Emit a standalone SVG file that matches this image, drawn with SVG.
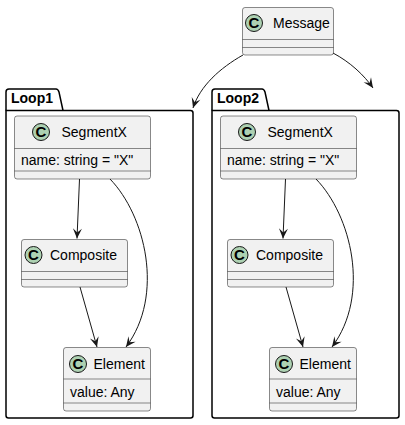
<svg xmlns="http://www.w3.org/2000/svg" width="405" height="425" viewBox="0 0 405 425">
<defs>
<style>
.box{fill:#F1F1F1;stroke:#181818;stroke-width:0.5}
.sep{stroke:#181818;stroke-width:0.5}
.pkg{fill:none;stroke:#000;stroke-width:1.5}
.ic{fill:#ADD1B2;stroke:#181818;stroke-width:1}
.icl{font-family:"Liberation Sans",Arial,sans-serif;font-size:15px;font-weight:bold;fill:#000}
.t{font-family:"Liberation Sans",Arial,sans-serif;font-size:14px;fill:#000}
.pt{font-family:"Liberation Sans",Arial,sans-serif;font-size:14px;font-weight:bold;fill:#000}
.ln{fill:none;stroke:#181818;stroke-width:1}
</style>
<marker id="ah" viewBox="-11 -5 12 10" refX="0" refY="0" markerWidth="12" markerHeight="10" markerUnits="userSpaceOnUse" orient="auto">
<path d="M0,0 L-10,-4.5 L-6,0 L-10,4.5 Z" fill="#181818"/>
</marker>
</defs>
<rect width="405" height="425" fill="#FFFFFF"/>

<g id="Loop1">
<path class="pkg" d="M6,110.5 L6,92 Q6,89 9,89 L56,89 Q58,89 59,92 L63,110.5"/>
<path class="pkg" d="M6,110.5 L190.5,110.5 Q193,110.5 193,113 L193,415.5 Q193,418 190.5,418 L8.5,418 Q6,418 6,415.5 Z"/>
<text class="pt" x="11" y="103">Loop1</text>
</g>
<g id="Loop2">
<path class="pkg" d="M212,110.5 L212,92 Q212,89 215,89 L262,89 Q264,89 265,92 L269,110.5"/>
<path class="pkg" d="M212,110.5 L396.5,110.5 Q399,110.5 399,113 L399,415.5 Q399,418 396.5,418 L214.5,418 Q212,418 212,415.5 Z"/>
<text class="pt" x="217" y="103">Loop2</text>
</g>

<g id="Message">
<rect class="box" x="242.5" y="7.5" width="91" height="47.5" rx="2.5"/>
<line class="sep" x1="242.5" y1="39.5" x2="333.5" y2="39.5"/>
<line class="sep" x1="242.5" y1="47.5" x2="333.5" y2="47.5"/>
<circle class="ic" cx="254" cy="23" r="8.5"/>
<text class="icl" x="254" y="28.3" text-anchor="middle">C</text>
<text class="t" x="273" y="28">Message</text>
</g>

<g id="Loop1.SegmentX">
<rect class="box" x="14.5" y="116" width="136" height="63" rx="2.5"/>
<line class="sep" x1="14.5" y1="148.5" x2="150.5" y2="148.5"/>
<line class="sep" x1="14.5" y1="171" x2="150.5" y2="171"/>
<circle class="ic" cx="41" cy="132" r="8.5"/>
<text class="icl" x="41" y="137.3" text-anchor="middle">C</text>
<text class="t" x="61.5" y="137">SegmentX</text>
<text class="t" x="21" y="165">name: string = "X"</text>
</g>
<g id="Loop1.Composite">
<rect class="box" x="21.5" y="239.5" width="106" height="47.5" rx="2.5"/>
<line class="sep" x1="21.5" y1="271.5" x2="127.5" y2="271.5"/>
<line class="sep" x1="21.5" y1="279.5" x2="127.5" y2="279.5"/>
<circle class="ic" cx="33.5" cy="255" r="8.5"/>
<text class="icl" x="33.5" y="260.3" text-anchor="middle">C</text>
<text class="t" x="50" y="260">Composite</text>
</g>
<g id="Loop1.Element">
<rect class="box" x="63.5" y="347.5" width="87" height="63.5" rx="2.5"/>
<line class="sep" x1="63.5" y1="379" x2="150.5" y2="379"/>
<line class="sep" x1="63.5" y1="403" x2="150.5" y2="403"/>
<circle class="ic" cx="78" cy="364" r="8.5"/>
<text class="icl" x="78" y="369.3" text-anchor="middle">C</text>
<text class="t" x="93.5" y="368.5">Element</text>
<text class="t" x="70" y="397">value: Any</text>
</g>

<g id="Loop2.SegmentX">
<rect class="box" x="220.5" y="116" width="136" height="63" rx="2.5"/>
<line class="sep" x1="220.5" y1="148.5" x2="356.5" y2="148.5"/>
<line class="sep" x1="220.5" y1="171" x2="356.5" y2="171"/>
<circle class="ic" cx="247" cy="132" r="8.5"/>
<text class="icl" x="247" y="137.3" text-anchor="middle">C</text>
<text class="t" x="267.5" y="137">SegmentX</text>
<text class="t" x="227" y="165">name: string = "X"</text>
</g>
<g id="Loop2.Composite">
<rect class="box" x="227.5" y="239.5" width="106" height="47.5" rx="2.5"/>
<line class="sep" x1="227.5" y1="271.5" x2="333.5" y2="271.5"/>
<line class="sep" x1="227.5" y1="279.5" x2="333.5" y2="279.5"/>
<circle class="ic" cx="239.5" cy="255" r="8.5"/>
<text class="icl" x="239.5" y="260.3" text-anchor="middle">C</text>
<text class="t" x="256" y="260">Composite</text>
</g>
<g id="Loop2.Element">
<rect class="box" x="269.5" y="347.5" width="87" height="63.5" rx="2.5"/>
<line class="sep" x1="269.5" y1="379" x2="356.5" y2="379"/>
<line class="sep" x1="269.5" y1="403" x2="356.5" y2="403"/>
<circle class="ic" cx="284" cy="364" r="8.5"/>
<text class="icl" x="284" y="369.3" text-anchor="middle">C</text>
<text class="t" x="299.5" y="368.5">Element</text>
<text class="t" x="276" y="397">value: Any</text>
</g>

<g id="connectors">
<path class="ln" marker-end="url(#ah)" d="M243,55 C220,68 200,86 193,108"/>
<path class="ln" marker-end="url(#ah)" d="M333,53 C350,62 364,75 373,88"/>
<path class="ln" marker-end="url(#ah)" d="M79.5,179 L77,238.5"/>
<path class="ln" marker-end="url(#ah)" d="M110,179 C145,215 165,295 126,347"/>
<path class="ln" marker-end="url(#ah)" d="M80,287 L97,347"/>
<path class="ln" marker-end="url(#ah)" d="M285.5,179 L283,238.5"/>
<path class="ln" marker-end="url(#ah)" d="M316,179 C351,215 371,295 332,347"/>
<path class="ln" marker-end="url(#ah)" d="M286,287 L303,347"/>
</g>
</svg>
